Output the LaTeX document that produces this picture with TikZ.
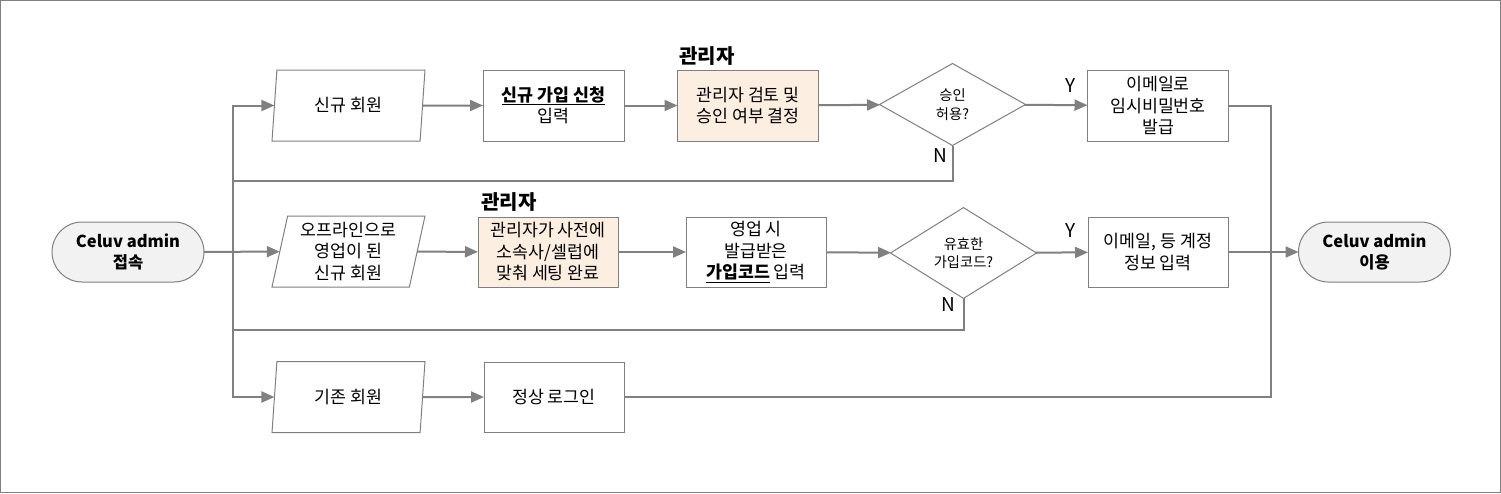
\documentclass[tikz,border=0pt]{standalone}
\usepackage{fontspec}
\setmainfont{Noto Sans CJK KR}
\usetikzlibrary{shapes.geometric,shapes.misc,arrows.meta}
\definecolor{ln}{HTML}{808080}
\definecolor{bd}{HTML}{7F7F7F}
\definecolor{termfill}{HTML}{F2F2F2}
\definecolor{peach}{HTML}{FDEEE2}
\begin{document}
\begin{tikzpicture}[x=1pt,y=-1pt,
  txt/.style={align=center, font=\fontsize{17.3}{21.5}\selectfont, text=black},
  box/.style={txt, draw=bd, line width=1pt, inner sep=2pt, outer sep=0pt, minimum width=141pt, minimum height=71pt},
  admbox/.style={box, fill=peach},
  para/.style={txt, draw=bd, line width=1pt, trapezium, trapezium left angle=76, trapezium right angle=104, trapezium stretches body=true, minimum width=153pt, minimum height=71pt, inner sep=2pt, outer sep=0pt},
  dec/.style={draw=bd, line width=1pt, diamond, minimum width=146pt, minimum height=82pt, inner sep=0pt, outer sep=0pt, align=center, font=\fontsize{14.3}{18.5}\selectfont},
  term/.style={draw=bd, line width=1pt, fill=termfill, rounded rectangle, minimum width=156pt, minimum height=60pt, inner sep=2pt, outer sep=0pt, align=center, font=\fontsize{16.5}{21}\selectfont\bfseries},
  lbl/.style={font=\fontsize{20}{24}\selectfont\bfseries, inner sep=0pt},
  yn/.style={font=\fontsize{19}{22}\selectfont, inner sep=0pt},
  wire/.style={draw=ln, line width=2pt},
  arr/.style={wire, -{Triangle[length=13pt,width=11pt]}}
]
\useasboundingbox (0,0) rectangle (1501,493);
\draw[bd, line width=1pt] (0.5,0.5) rectangle (1500.5,492.5);

% nodes
\node[term] (start) at (128,252) {Celuv admin\\접속};
\node[term] (end) at (1374.5,252) {Celuv admin\\이용};

\node[para] (p1) at (348.5,105.5) {신규 회원};
\node[box] (b1) at (553.5,105.5) {\underline{\textbf{신규 가입 신청}}\\입력};
\node[admbox] (adm1) at (748,105.5) {관리자 검토 및\\승인 여부 결정};
\node[dec] (d1) at (952.5,104.5) {승인\\허용?};
\node[box] (ok1) at (1158,105.5) {이메일로\\임시비밀번호\\발급};

\node[para] (p2) at (348.5,251.5) {오프라인으로\\영업이 된\\신규 회원};
\node[admbox, minimum width=140pt, minimum height=70pt] (adm2) at (548,252) {관리자가 사전에\\소속사/셀럽에\\맞춰 세팅 완료};
\node[box, minimum width=140pt, minimum height=70pt] (code) at (756,252) {영업 시\\발급받은\\\underline{\textbf{가입코드}} 입력};
\node[dec] (d2) at (963.5,253) {유효한\\가입코드?};
\node[box, minimum width=140pt, minimum height=70pt] (ok2) at (1158,252) {이메일, 등 계정\\정보 입력};

\node[para] (p3) at (348.5,397) {기존 회원};
\node[box, minimum width=140pt, minimum height=70pt] (login) at (554,397) {정상 로그인};

% labels
\node[lbl] (l1) at (707,56) {관리자};
\node[lbl] (l2) at (509,202) {관리자};
\node[yn] (y1) at (1071,86) {Y};
\node[yn] (y2) at (1071,231) {Y};
\node[yn] (n1) at (940,156) {N};
\node[yn] (n2) at (948,305) {N};

% junction coordinates
\coordinate (tr) at (233,252);
\coordinate (rt) at (1271,252);
\coordinate (loop1) at (233,181);
\coordinate (loop2) at (233,330);

% connectors
\draw[arr] (start) -- (p2);
\draw[arr] (tr) |- (p1);
\draw[arr] (tr) |- (p3);
\draw[arr] (p1) -- (b1);
\draw[arr] (b1) -- (adm1);
\draw[arr] (adm1) -- (d1);
\draw[arr] (d1) -- (ok1);
\draw[wire] (d1.south) |- (loop1);
\draw[wire] (ok1) -| (rt);

\draw[arr] (p2) -- (adm2);
\draw[arr] (adm2) -- (code);
\draw[arr] (code) -- (d2);
\draw[arr] (d2) -- (ok2);
\draw[wire] (d2.south) |- (loop2);
\draw[arr] (ok2) -- (end);

\draw[arr] (p3) -- (login);
\draw[wire] (login) -| (rt);
\end{tikzpicture}
\end{document}
